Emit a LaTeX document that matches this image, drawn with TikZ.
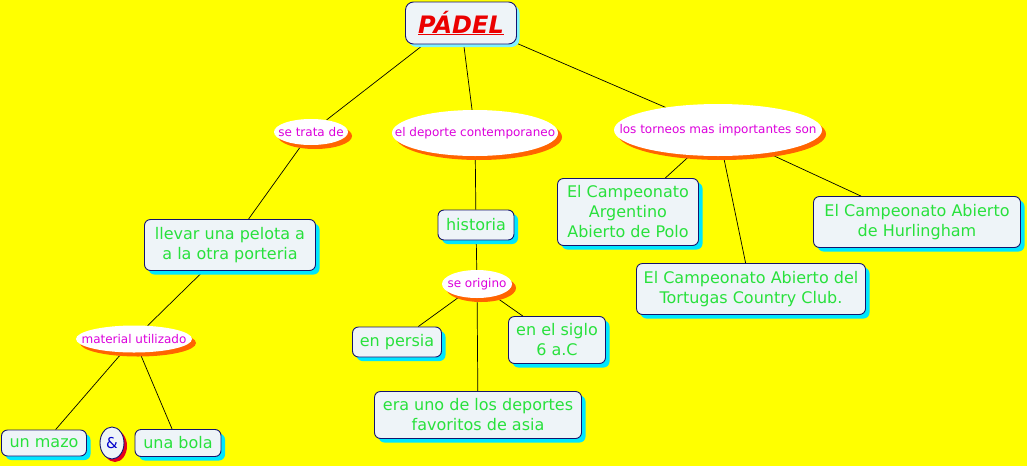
\documentclass[tikz,border=0pt]{standalone}
\usepackage{fontspec}
\setmainfont{DejaVu Sans}
\usetikzlibrary{shapes.geometric,shadows,backgrounds}
\definecolor{bgyellow}{RGB}{255,255,0}
\definecolor{boxfill}{RGB}{238,244,248}
\definecolor{boxline}{RGB}{20,20,110}
\definecolor{txtgreen}{RGB}{40,225,60}
\definecolor{txtmag}{RGB}{220,0,220}
\definecolor{shcyan}{RGB}{0,230,255}
\definecolor{shorange}{RGB}{255,100,0}
\definecolor{shred}{RGB}{230,0,30}
\definecolor{titlered}{RGB}{235,0,0}
\newcommand{\zw}[1]{\makebox[0pt]{#1}}
\tikzset{
  conbox/.style={draw=boxline, line width=0.9pt, fill=boxfill, rounded corners=6pt,
    align=center, text=txtgreen, font=\fontsize{16}{20}\selectfont, inner sep=2pt,
    general shadow={shadow xshift=4pt, shadow yshift=-4pt, fill=shcyan}},
  linkell/.style={ellipse, fill=white, text=txtmag,
    font=\fontsize{12}{14}\selectfont, inner sep=0pt,
    general shadow={shadow xshift=4pt, shadow yshift=-4pt, fill=shorange}},
  conn/.style={draw=black, line width=0.7pt}
}
\begin{document}
\begin{tikzpicture}[x=1pt,y=-1pt]
\useasboundingbox (0,0) rectangle (1027,466);
% title
\node[draw=boxline, line width=0.9pt, fill=boxfill, rounded corners=8pt,
  minimum width=111pt, minimum height=42pt, inner sep=0pt,
  general shadow={shadow xshift=3pt, shadow yshift=-3pt, fill=shcyan!50}]
  (padel) at (461,23) {\textcolor{titlered}{\fontsize{24}{26}\selectfont\bfseries\itshape\underline{PÁDEL}}};
% linking ellipses
\node[linkell, minimum width=74pt, minimum height=26pt] (trata) at (311,132) {\zw{se trata de}};
\node[linkell, minimum width=166pt, minimum height=46pt] (deporte) at (475,133) {\zw{el deporte contemporaneo}};
\node[linkell, minimum width=208pt, minimum height=52pt] (torneos) at (718,130) {\zw{los torneos mas importantes son}};
\node[linkell, minimum width=70pt, minimum height=28pt] (origino) at (477,284) {\zw{se origino}};
\node[linkell, minimum width=116pt, minimum height=27pt] (material) at (134,339) {\zw{material utilizado}};
% concept boxes
\node[conbox, minimum width=171pt, minimum height=51pt] (llevar) at (230,245) {llevar una pelota a\\a la otra porteria};
\node[conbox, minimum width=76pt, minimum height=30pt] (historia) at (476,225) {historia};
\node[conbox, minimum width=89pt, minimum height=30pt] (persia) at (397,342) {en persia};
\node[conbox, minimum width=97pt, minimum height=47pt] (siglo) at (557,340) {en el siglo\\6 a.C};
\node[conbox, minimum width=207pt, minimum height=47pt] (asia) at (478,415) {era uno de los deportes\\favoritos de asia};
\node[conbox, minimum width=85pt, minimum height=26pt] (mazo) at (44,443) {un mazo};
\node[conbox, minimum width=86pt, minimum height=27pt] (bola) at (178,443) {una bola};
\node[ellipse, draw=boxline, line width=0.9pt, fill=boxfill, text=blue!80!black,
  minimum width=24pt, minimum height=32pt, inner sep=0pt, font=\fontsize{15}{17}\selectfont,
  general shadow={shadow xshift=3pt, shadow yshift=-3pt, fill=shred}] (amp) at (112,443) {\zw{\&}};
\node[conbox, minimum width=141pt, minimum height=67pt] (polo) at (628,212) {El Campeonato\\Argentino\\Abierto de Polo};
\node[conbox, minimum width=229pt, minimum height=51pt] (tortugas) at (751,289) {El Campeonato Abierto del\\Tortugas Country Club.};
\node[conbox, minimum width=207pt, minimum height=51pt] (hurl) at (917,222) {El Campeonato Abierto\\de Hurlingham};
\begin{scope}[on background layer]
\fill[bgyellow] (0,0) rectangle (1027,466);
\draw[conn] (padel.210) -- (trata);
\draw[conn] (padel) -- (deporte);
\draw[conn] (padel.340) -- (torneos);
\draw[conn] (trata) -- (llevar);
\draw[conn] (llevar) -- (material);
\draw[conn] (material) -- (mazo);
\draw[conn] (material) -- (bola);
\draw[conn] (deporte) -- (historia);
\draw[conn] (historia) -- (origino);
\draw[conn] (origino) -- (persia);
\draw[conn] (origino) -- (asia);
\draw[conn] (origino) -- (siglo);
\draw[conn] (torneos) -- (polo);
\draw[conn] (torneos) -- (tortugas);
\draw[conn] (torneos) -- (hurl);
\end{scope}
\end{tikzpicture}
\end{document}
